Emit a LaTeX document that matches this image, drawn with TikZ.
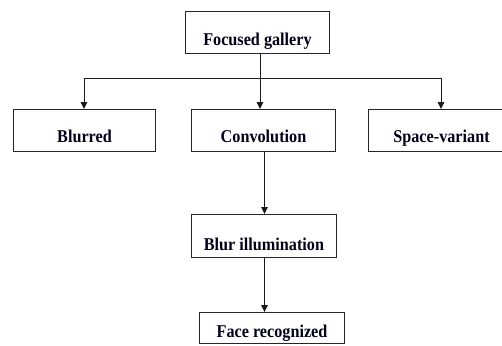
\documentclass[tikz,border=0pt]{standalone}
\usepackage{fontspec}
\setmainfont{Liberation Serif}[FakeStretch=0.9]
\usetikzlibrary{arrows.meta}
\begin{document}
\begin{tikzpicture}[x=1pt,y=1pt,
  box/.style={draw=black!85, line width=1pt, inner sep=0pt, anchor=north west,
    font=\fontsize{18}{20}\selectfont\bfseries, text=black!90!blue},
  conn/.style={draw=black!90, line width=1pt},
  arr/.style={conn, -{Triangle[length=7pt,width=6.5pt]}}]
\clip (0,0) rectangle (502,-345);
\useasboundingbox (0,0) rectangle (502,-345);
% boxes
\node[box, minimum width=144pt, text height=34pt, text depth=8pt] (fg) at (185,-11) {Focused gallery};
\node[box, minimum width=142pt, text height=33pt, text depth=9pt] (bl) at (13,-109) {Blurred};
\node[box, minimum width=144pt, text height=33pt, text depth=9pt] (cv) at (191,-109) {Convolution};
\node[box, minimum width=146pt, text height=33pt, text depth=9pt] (sv) at (368,-109) {Space-variant};
\node[box, minimum width=145pt, text height=36pt, text depth=7pt] (bi) at (191,-214) {Blur illumination};
\node[box, minimum width=145pt, text height=25pt, text depth=6pt] (fr) at (199,-312) {Face recognized};
% connectors
\coordinate (split) at (260,-78);
\coordinate (hl) at (84,-78);
\coordinate (hr) at (441,-78);
\draw[conn] (fg.south -| split) -- (split);
\draw[conn] (hl) -- (hr);
\draw[arr] (hl) -- (hl |- bl.north);
\draw[arr] (split) -- (split |- cv.north);
\draw[arr] (hr) -- (hr |- sv.north);
\coordinate (cx) at (264.5,0);
\draw[arr] (cx |- cv.south) -- (cx |- bi.north);
\draw[arr] (cx |- bi.south) -- (cx |- fr.north);
\end{tikzpicture}
\end{document}
